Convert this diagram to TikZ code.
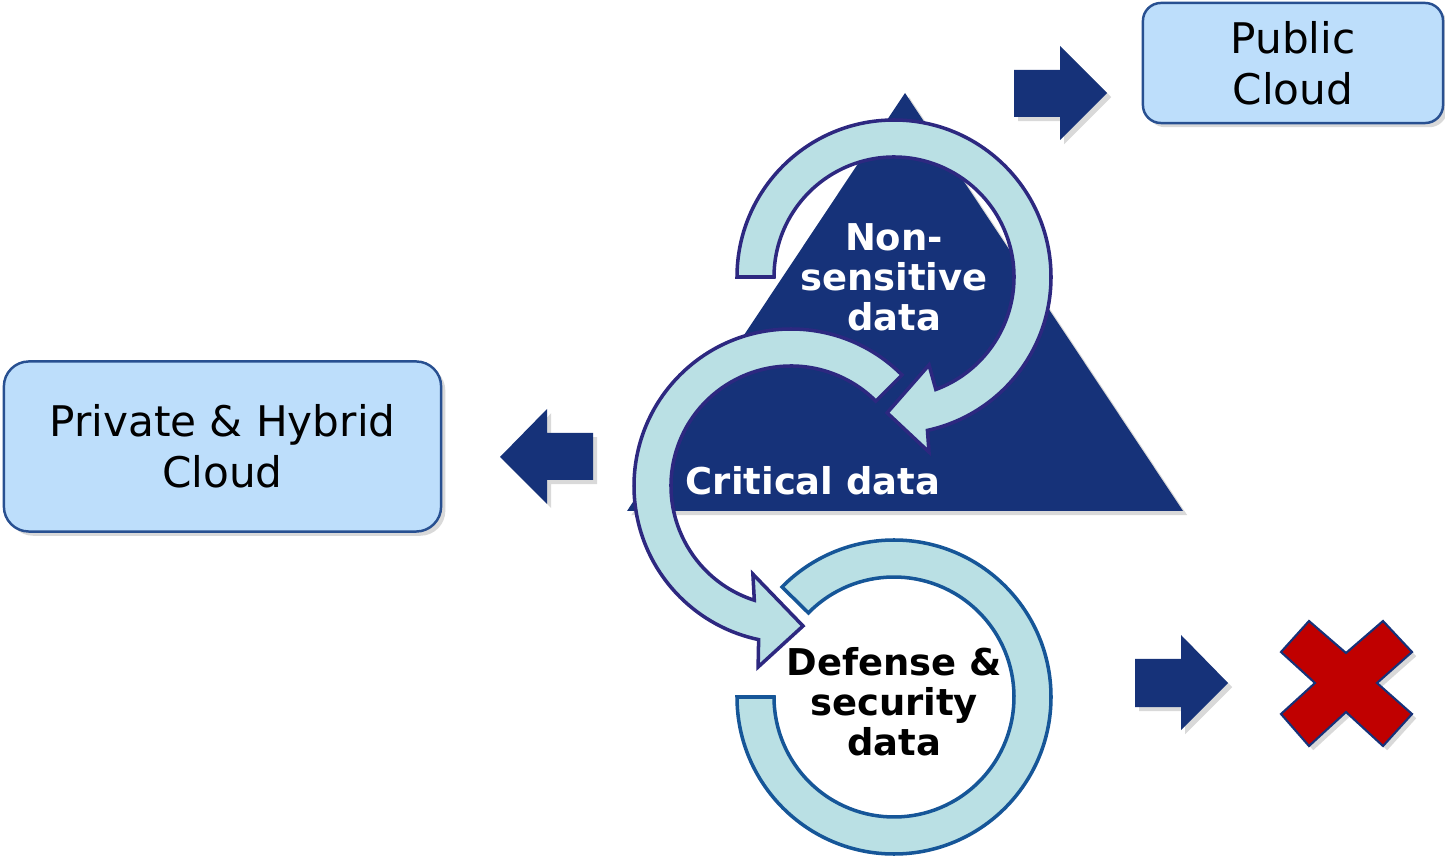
\documentclass[tikz,border=0pt]{standalone}
\usepackage{fontspec}
\setmainfont{DejaVu Sans}
\usetikzlibrary{calc,shadows}
\definecolor{navy}{RGB}{22,50,121}
\definecolor{ringfill}{RGB}{186,224,228}
\definecolor{ringline}{RGB}{45,40,128}
\definecolor{defline}{RGB}{22,86,152}
\definecolor{boxfill}{RGB}{189,222,251}
\definecolor{boxline}{RGB}{40,80,145}
\definecolor{nored}{RGB}{192,0,0}
\tikzset{
	softshadow/.style={drop shadow={shadow xshift=1.2pt, shadow yshift=-1.2pt, opacity=0.25, fill=black!60}},
	cloudbox/.style={draw=boxline, line width=0.7pt, fill=boxfill, softshadow, align=center,
		font=\fontsize{12}{14.5}\selectfont, inner sep=0pt},
	blockarrow/.style={fill=navy, softshadow},
	ring/.style={draw=ringline, line width=1pt, fill=ringfill, line join=miter},
	defring/.style={draw=defline, line width=1pt, fill=ringfill},
	boldtxt/.style={font=\bfseries\fontsize{10.5}{11.4}\selectfont, align=center, inner sep=0pt}
}

\begin{document}
\begin{tikzpicture}[x=0.01cm, y=-0.01cm]
		%%%%% START %%%%%
		\useasboundingbox (0,0) rectangle (1445,861);
		
		\coordinate (nsc) at (894,277);
		\coordinate (crc) at (791,486);
		\coordinate (dfc) at (894,697);
		
		% pyramid
		\fill[navy, softshadow] (905,93) -- (1183,511) -- (627,511) -- cycle;
		
		% non-sensitive loop
		\draw[ring] ($(nsc)+(180:157)$) arc (180:437.7:157) -- ($(nsc)+(438.7:178.5)$)
			-- ($(nsc)+(452.9:136)$) -- ($(nsc)+(428.3:94.7)$) -- ($(nsc)+(429.6:120)$)
			arc (429.6:180:120) -- cycle;
		
		% defense ring
		\draw[defring] ($(dfc)+(180:157)$) arc (180:-135.5:157) -- ($(dfc)+(-135.5:120)$)
			arc (-135.5:180:120) -- cycle;
		
		% critical loop
		\draw[ring] ($(crc)+(-45:157)$) arc (-45:-258.1:157) -- ($(crc)+(-259.7:184)$)
			-- ($(crc)+(-274.9:140.5)$) -- ($(crc)+(-246.6:96)$) -- ($(crc)+(-252.2:120)$)
			arc (-252.2:-45:120) -- cycle;
		
		\node[boldtxt, text=white] (nonsens) at (894,277) {Non-\\sensitive\\data};
		\node[boldtxt, text=white] (critical) at (813,481) {Critical data};
		\node[boldtxt, text=black] (defense) at (894,702) {Defense \&\\security\\data};
		
		% clouds
		\node[cloudbox, rounded corners=0.25cm, minimum width=4.37cm, minimum height=1.70cm] (private) at (222.5,446.5) {Private \& Hybrid\\Cloud};
		\node[cloudbox, rounded corners=0.18cm, minimum width=3.00cm, minimum height=1.20cm] (public) at (1293,63) {Public\\Cloud};
		
		% block arrows
		\fill[blockarrow] (593,433) -- (547,433) -- (547,409) -- (500,457) -- (547,504) -- (547,480) -- (593,480) -- cycle;
		\fill[blockarrow] (1014,70) -- (1060,70) -- (1060,46) -- (1107,93) -- (1060,140) -- (1060,117) -- (1014,117) -- cycle;
		\fill[blockarrow] (1135,659) -- (1181,659) -- (1181,635) -- (1228,683) -- (1181,730) -- (1181,707) -- (1135,707) -- cycle;
		
		% no cloud
		\draw[fill=nored, draw=navy, line width=0.6pt, softshadow] (1309,621) -- (1346,653) -- (1383,621) -- (1412,652) -- (1377,683)
			-- (1412,714) -- (1383,746) -- (1346,712) -- (1309,746) -- (1281,714) -- (1315,683) -- (1281,652) -- cycle;
		
		%%%%% END %%%%%
	\end{tikzpicture}
\end{document}
